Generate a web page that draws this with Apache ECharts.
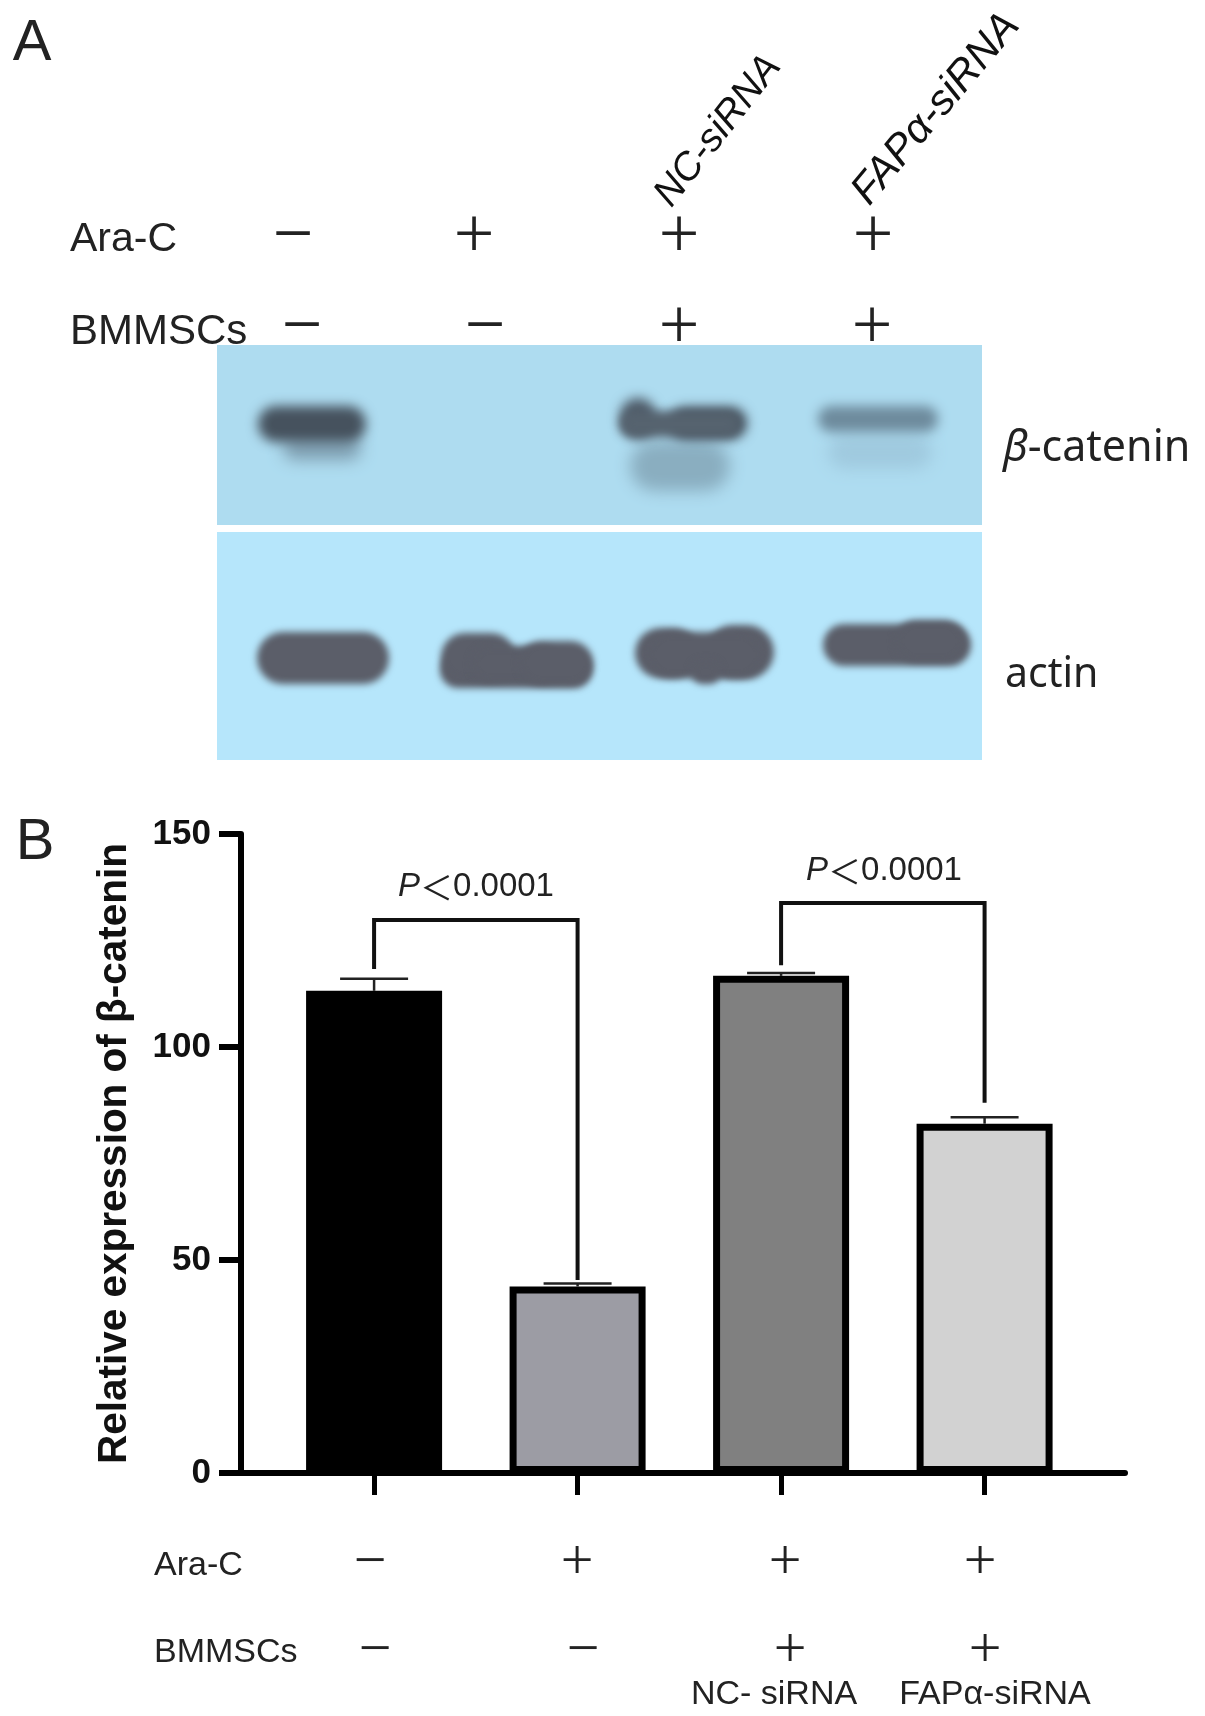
<!DOCTYPE html>
<html>
<head>
<meta charset="utf-8">
<style>html,body{margin:0;padding:0;background:#fff}#c{width:1205px;height:1716px}</style>
<script src="https://cdn.jsdelivr.net/npm/echarts@6/dist/echarts.min.js"></script>
</head>
<body>
<div id="c"></div>
<script>
// ---- data ----
var groups = [0, 1, 2, 3];
var means = [113.2, 43.8, 116.7, 82.0];
var upperErrors = [116.0, 44.5, 117.4, 83.5];
var barColors = ['#000000', '#9c9ca4', '#808080', '#d2d2d2'];
var yTicks = [0, 50, 100, 150];
var araC = ['−', '+', '+', '+'];
var bmmscs = ['−', '−', '+', '+'];
var siRna = ['', '', 'NC- siRNA', 'FAPα-siRNA'];
var bracketFrom = [0, 2];
var bracketTo = [1, 3];
var bracketTop = [129.8, 133.8];
var bracketLeftEnd = [118.3, 119.2];
var bracketRightEnd = [45.3, 86.9];
var pLess = '＜';
var pValue = '0.0001';

var SANS = '"Liberation Sans", Arial, sans-serif';
var SERIF = '"Liberation Serif", serif';
var HUM = '"Noto Sans", sans-serif';

function txt(text, x, y, size, opts) {
  opts = opts || {};
  return {
    type: 'text', x: x, y: y, rotation: opts.rotation || 0, z: 20,
    style: {
      text: text, fill: opts.fill || '#222',
      font: (opts.style || 'normal') + ' ' + (opts.weight || 'normal') + ' ' + size + 'px ' + (opts.family || SANS),
      align: opts.align || 'center', verticalAlign: 'middle', rich: opts.rich
    }
  };
}
// A soft blot band: only the blurred shadow of a rectangle parked off the page is visible.
var PARK = 3000;
function band(cx, cy, w, h, color, blur, opacity) {
  return {
    type: 'rect', z: 5,
    shape: { x: cx - w / 2 - PARK, y: cy - h / 2, width: w, height: h, r: Math.min(w, h) / 2 },
    style: { fill: color, shadowBlur: blur, shadowColor: color, shadowOffsetX: PARK, opacity: opacity == null ? 1 : opacity }
  };
}
function pText(x, y) {
  return txt('{i|P}{n|' + pLess + '}{m|' + pValue + '}', x, y, 33, {
    rich: {
      i: { fontStyle: 'italic', fontFamily: SANS, fontSize: 33, fill: '#222' },
      n: { fontFamily: '"Noto Sans CJK SC",' + SANS, fontSize: 33, fill: '#222' },
      m: { fontFamily: SANS, fontSize: 33, fill: '#222' }
    }
  });
}

var ACTIN = '#5b5e69';
var graphics = [
  txt('A', 32, 44, 58),
  txt('B', 35, 843, 58),

  // blot panels
  { type: 'rect', z: 1, shape: { x: 217, y: 345, width: 765, height: 180 }, style: { fill: '#aedcf0' } },
  { type: 'rect', z: 1, shape: { x: 217, y: 532, width: 765, height: 228 }, style: { fill: '#b6e6fb' } },

  // beta-catenin tails
  band(322, 448, 78, 24, '#7f9fb1', 16),
  band(680, 466, 100, 50, '#8aaec0', 16),
  band(880, 452, 104, 34, '#a0cadf', 16),
  // beta-catenin bands
  band(312, 424, 108, 36, '#46525e', 12),
  band(638, 418, 36, 40, '#4f5c69', 12),
  band(708, 423, 78, 32, '#46525e', 12),
  band(680, 424, 120, 26, '#56636f', 10),
  band(878, 419, 120, 26, '#6e8b9d', 12),

  // actin bands
  band(323, 658, 132, 52, ACTIN, 7),
  band(516, 670, 152, 36, ACTIN, 7),
  band(478, 657, 74, 48, ACTIN, 7),
  band(516, 664, 90, 36, ACTIN, 7),
  band(556, 663, 74, 44, ACTIN, 7),
  band(667, 653, 64, 50, ACTIN, 7),
  band(740, 652, 68, 54, ACTIN, 7),
  band(705, 655, 116, 46, ACTIN, 7),
  band(706, 672, 30, 24, ACTIN, 7),
  band(897, 645, 148, 42, ACTIN, 7),
  band(930, 641, 70, 42, ACTIN, 7),

  // panel A header
  txt('Ara-C', 70, 240, 41, { align: 'left' }),
  txt('BMMSCs', 70, 332, 42, { align: 'left' }),
  txt('NC-siRNA', 718, 131, 39, { style: 'italic', rotation: 52 * Math.PI / 180, fill: '#111' }),
  txt('FAPα-siRNA', 936, 109, 42, { style: 'italic', rotation: 50 * Math.PI / 180, fill: '#111' }),
  txt('{b|β}-catenin', 1003, 449, 43, {
    align: 'left', family: HUM,
    rich: { b: { fontStyle: 'italic', fontFamily: HUM, fontSize: 43, fill: '#222' } }
  }),
  txt('actin', 1005, 675, 41, { align: 'left', family: HUM }),

  // P labels
  pText(476, 887),
  pText(884, 871),

  // panel B row labels
  txt('Ara-C', 154, 1566, 34, { align: 'left' }),
  txt('BMMSCs', 154, 1653, 34, { align: 'left' })
];

// +/- rows: panel A
[293, 474, 679, 873].forEach(function (x, i) { graphics.push(txt(araC[i], x, 238, 72, { family: SERIF })); });
[302, 485, 679, 872].forEach(function (x, i) { graphics.push(txt(bmmscs[i], x, 329, 72, { family: SERIF })); });
// +/- rows: panel B
[370, 577, 785, 980].forEach(function (x, i) { graphics.push(txt(araC[i], x, 1564, 58, { family: SERIF })); });
[375, 583, 790, 985].forEach(function (x, i) { graphics.push(txt(bmmscs[i], x, 1652, 58, { family: SERIF })); });
[0, 0, 774, 995].forEach(function (x, i) { if (siRna[i]) graphics.push(txt(siRna[i], x, 1695, 34)); });

var chart = echarts.init(document.getElementById('c'), null, { renderer: 'canvas' });
chart.setOption({
  animation: false,
  backgroundColor: '#fff',
  textStyle: { fontFamily: SANS },
  grid: { left: 241, right: 80, top: 834, bottom: 243, containLabel: false },
  xAxis: {
    type: 'value', min: -0.654, max: 3.69, splitLine: { show: false },
    axisLine: { onZero: false, lineStyle: { color: '#000', width: 6 } },
    axisTick: { length: 22, customValues: groups, lineStyle: { color: '#000', width: 5 } },
    axisLabel: { show: false }
  },
  yAxis: {
    type: 'value', min: 0, max: 150, interval: 50, splitLine: { show: false },
    axisLine: { onZero: false, lineStyle: { color: '#000', width: 6 } },
    axisTick: { length: 22, lineStyle: { color: '#000', width: 6 } },
    axisLabel: { margin: 30, fontSize: 35, fontWeight: 'bold', color: '#111',
      customValues: yTicks },
    name: 'Relative expression of β-catenin',
    nameLocation: 'middle', nameGap: 106,
    nameTextStyle: { fontSize: 40.5, fontWeight: 'bold', color: '#111' }
  },
  series: [
    {
      type: 'bar', barWidth: 136, z: 2,
      data: groups.map(function (g, i) {
        return { value: [g, means[i]], itemStyle: { color: barColors[i], borderColor: '#000', borderWidth: 7 } };
      })
    },
    {
      type: 'custom', z: 1,
      encode: { x: 0, y: [1, 2] },
      data: groups.map(function (g, i) { return [g, means[i], upperErrors[i]]; }),
      renderItem: function (p, api) {
        var a = api.coord([api.value(0), api.value(1)]);
        var b = api.coord([api.value(0), api.value(2)]);
        return {
          type: 'group', children: [
            { type: 'line', shape: { x1: a[0], y1: a[1], x2: b[0], y2: b[1] }, style: { stroke: '#222', lineWidth: 2.5 } },
            { type: 'line', shape: { x1: b[0] - 34, y1: b[1], x2: b[0] + 34, y2: b[1] }, style: { stroke: '#222', lineWidth: 2.5 } }
          ]
        };
      }
    },
    {
      type: 'custom', z: 3,
      encode: { x: [0, 1], y: [2, 3, 4] },
      data: bracketFrom.map(function (f, i) {
        return [f, bracketTo[i], bracketTop[i], bracketLeftEnd[i], bracketRightEnd[i]];
      }),
      renderItem: function (p, api) {
        var l0 = api.coord([api.value(0), api.value(3)]);
        var l1 = api.coord([api.value(0), api.value(2)]);
        var r1 = api.coord([api.value(1), api.value(2)]);
        var r0 = api.coord([api.value(1), api.value(4)]);
        return {
          type: 'polyline',
          shape: { points: [l0, l1, r1, r0] },
          style: { stroke: '#111', lineWidth: 4, fill: 'none' }
        };
      }
    }
  ],
  graphic: graphics
});
</script>
</body>
</html>
